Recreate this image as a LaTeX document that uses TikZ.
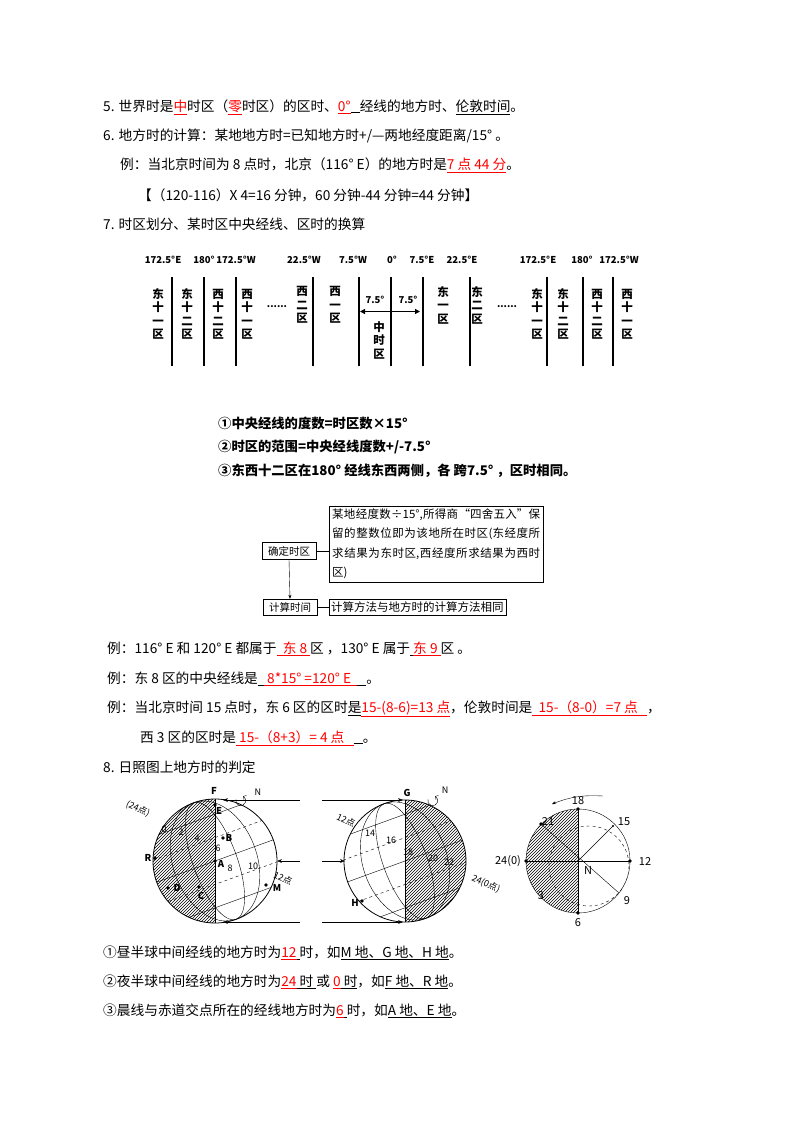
\documentclass[tikz,border=0pt]{standalone}
\usepackage{fontspec}
\setmainfont{Noto Sans CJK SC}
\XeTeXlinebreaklocale "zh"
\XeTeXlinebreakskip=0pt plus 1pt
\usetikzlibrary{patterns,arrows.meta,calc}
\newcommand{\ru}[1]{{\color{red}\underline{#1}}}
\newcommand{\bu}[1]{\underline{#1}}
\begin{document}
\begin{tikzpicture}[x=1pt,y=-1pt,
  txt/.style={anchor=west,inner sep=0pt,font=\fontsize{13.7}{15}\selectfont},
  bld/.style={anchor=west,inner sep=0pt,font=\fontsize{13.3}{15}\selectfont\bfseries},
  deg/.style={inner sep=0pt,font=\fontsize{9.5}{10}\selectfont\bfseries},
  zone/.style={inner sep=0pt,align=center,font=\fontsize{11.5}{13.5}\selectfont\bfseries},
  zl/.style={line width=1.3pt},
  zlt/.style={line width=2.2pt},
  fbox/.style={draw,inner sep=2pt,font=\fontsize{10.5}{12}\selectfont},
  gl/.style={font=\fontsize{9}{10}\selectfont,inner sep=0pt},
  gb/.style={font=\fontsize{9.5}{10}\selectfont\bfseries,inner sep=0pt},
  pl/.style={font=\fontsize{11}{12}\selectfont,inner sep=0pt},
  sun/.style={-{Stealth[length=5pt]},thin}]
\useasboundingbox (0,0) rectangle (800,1132);
% ---- text top
\node[txt] (t5) at (103,107) {5. 世界时是\textcolor{red}{\underline{中}}时区（\textcolor{red}{\underline{零}}时区）的区时、\ru{0°}\bu{\ \ \ }经线的地方时、\bu{伦敦时间}。};
\node[txt] (t6) at (103,136) {6. 地方时的计算：某地地方时=已知地方时+/—两地经度距离/15° 。};
\node[txt] (t6a) at (120,165) {例：当北京时间为 8 点时，北京（116° E）的地方时是\ru{7 点 44 分}。};
\node[txt] (t6b) at (138,195) {【（120-116）X 4=16 分钟，60 分钟-44 分钟=44 分钟】};
\node[txt] (t7) at (103,224) {7. 时区划分、某时区中央经线、区时的换算};
% ---- time zone diagram
\foreach \x/\s in {172/zlt,204/zl,236/zl,313/zlt,359/zl,391/zl,423/zlt,470/zl,547/zlt,583/zl,613/zl}
  \draw[\s] (\x,277) -- (\x,366);
\foreach \x/\t in {163/172.5°E,204/180°,236/172.5°W,304/22.5°W,353/7.5°W,392/0°,422/7.5°E,462/22.5°E,538/172.5°E,582/180°,619/172.5°W}
  \node[deg] at (\x,260) {\t};
\foreach \x/\t in {158/东\\十\\一\\区,187/东\\十\\二\\区,218/西\\十\\二\\区,247/西\\十\\一\\区,537/东\\十\\一\\区,563/东\\十\\二\\区,597/西\\十\\二\\区,627/西\\十\\一\\区}
  \node[zone] at (\x,314) {\t};
\foreach \x/\t in {302/西\\二\\区,335/西\\一\\区,443/东\\一\\区,477/东\\二\\区}
  \node[zone] at (\x,305) {\t};
\node[zone] (zz) at (379,340) {中\\时\\区};
\node[deg] at (277,307) {......};
\node[deg] at (507,307) {......};
\node[deg] at (375,300) {7.5°};
\node[deg] at (408,300) {7.5°};
\coordinate (al) at (360,311.5); \coordinate (ar) at (420,311.5);
\draw[{Triangle[length=5pt,width=5pt]}-{Triangle[length=5pt,width=5pt]},line width=1.3pt] (al) -- (ar);
% ---- rules
\node[bld] (r1) at (218,423) {①中央经线的度数=时区数×15°};
\node[bld] (r2) at (218,447) {②时区的范围=中央经线度数+/-7.5°};
\node[bld] (r3) at (218,471) {③东西十二区在180° 经线东西两侧，各 跨7.5° ，区时相同。};
% ---- flowchart
\node[fbox,minimum width=54pt,minimum height=17pt] (b1) at (289,551) {确定时区};
\node[fbox,anchor=west,text width=208pt,align=justify,inner sep=3pt,font=\fontsize{11.5}{19.5}\selectfont] (b2) at (329,544) {某地经度数÷15°,所得商“四舍五入”保留的整数位即为该地所在时区(东经度所求结果为东时区,西经度所求结果为西时区)};
\node[fbox,minimum width=54pt,minimum height=16pt] (b3) at (290,607) {计算时间};
\node[fbox,anchor=west,minimum height=16pt,font=\fontsize{11.5}{12}\selectfont] (b4) at (329,607) {计算方法与地方时的计算方法相同};
\draw (b1.east) -- (b2.west |- b1.east);
\draw[-{Stealth[length=4pt]}] (b1.south) -- (b3.north);
\draw (b3.east) -- (b4.west);
% ---- examples
\node[txt] (e1) at (107,649) {例：116° E 和 120° E 都属于\ru{\ \ 东 8 }区 ，130° E 属于\bu{\ }\ru{东 9 }区 。};
\node[txt] (e2) at (107,679) {例：东 8 区的中央经线是\bu{\ \ }\ru{\ 8*15° =120° E\ \ }\bu{\ \ \ }。};
\node[txt] (e3) at (107,709) {例：当北京时间 15 点时，东 6 区的区时\bu{是}\ru{15-(8-6)=13 点}，伦敦时间是\ru{\ \ 15-（8-0）=7 点\ \ \ }，};
\node[txt] (e4) at (140,738) {西 3 区的区时是\ru{\ 15-（8+3）= 4 点\ \ \ }\bu{\ \ \ }。};
\node[txt] (t8) at (103,767) {8. 日照图上地方时的判定};
% ---- globe 1
\coordinate (c1) at (215,861);
\begin{scope}
\clip (c1) circle (62);
\fill[pattern=north east lines] (153,790) rectangle (215,930);
\begin{scope}[rotate around={20:(c1)}]
\foreach \a in {22,42} \draw (c1) ellipse ({\a} and 62);
\foreach \d/\s in {-44/solid,-22/dashed,0/solid,22/dashed,44/solid}
  \draw[\s] ($(c1)+(-70,\d)$) -- ($(c1)+(70,\d)$);
\end{scope}
\end{scope}
\draw[thick] (c1) circle (62);
\draw[thick] (215,799) -- (215,923);
\coordinate (s1t) at (300,800); \coordinate (s1m) at (300,861); \coordinate (s1b) at (300,922);
\draw[sun] (s1t) -- (223,800);
\draw[sun] (s1m) -- (277,861);
\draw[sun] (s1b) -- (223,922);
\draw[->] (236,799) arc (200:-60:5);
\node[gl] at (258,792) {N};
\node[gb] (F) at (214,791) {F};
\node[gb] (E) at (219,811) {E};
\node[gb] (B) at (229,838) {B};
\node[gb] (A) at (221,864) {A};
\node[gb] (R) at (148,858) {R};
\node[gb] (D) at (177,888) {D};
\node[gb] (C) at (201,896) {C};
\node[gb] (M) at (277,888) {M};
\foreach \p in {(215,805),(223,838),(215,861),(155,858),(168,888),(199,887),(266,885)} \fill \p circle (1.8);
\node[gl,rotate=-25] at (138,809) {(24点)};
\foreach \x/\y/\t in {164/829/0,181/832/2,197/838/4,218/848/6,230/868/8,253/866/10} \node[gl] at (\x,\y) {\t};
\node[gl,rotate=-25] at (283,878) {12点};
% ---- globe 2
\coordinate (c2) at (405,861);
\begin{scope}
\clip (c2) circle (61);
\fill[pattern=north east lines] (405,790) rectangle (470,930);
\begin{scope}[rotate around={20:(c2)}]
\foreach \a in {22,42} \draw (c2) ellipse ({\a} and 61);
\foreach \d/\s in {-44/solid,-22/dashed,0/solid,22/dashed,44/solid}
  \draw[\s] ($(c2)+(-70,\d)$) -- ($(c2)+(70,\d)$);
\end{scope}
\end{scope}
\draw[thick] (c2) circle (61);
\draw[thick] (405,800) -- (405,922);
\coordinate (s2t) at (322,800); \coordinate (s2m) at (322,861); \coordinate (s2b) at (322,922);
\draw[sun] (s2t) -- (403,800);
\draw[sun] (s2m) -- (345,861);
\draw[sun] (s2b) -- (403,922);
\draw[->] (428,799) arc (200:-60:5);
\node[gl] at (445,790) {N};
\node[gb] (G) at (407,793) {G};
\node[gb] (H) at (355,903) {H};
\fill (362,901) circle (1.8);
\node[gl,rotate=-25] at (346,820) {12点};
\foreach \x/\y/\t in {370/833/14,391/840/16,408/852/18,433/858/20,449/862/22} \node[gl] at (\x,\y) {\t};
\node[gl,rotate=-25] at (486,884) {24(0点)};
% ---- polar diagram
\coordinate (c3) at (578,861);
\begin{scope}
\clip (c3) circle (52);
\fill[pattern=north east lines] (520,805) rectangle (578,915);
\draw[dashed] (589,866) circle (40);
\end{scope}
\draw (c3) circle (52);
\coordinate (p18) at (578,809); \coordinate (p6) at (578,913);
\coordinate (p24) at (526,861); \coordinate (p12) at (630,861);
\coordinate (p21) at (541,824); \coordinate (p9) at (619,893);
\coordinate (p15) at (613,826);
\draw[thick] (p18) -- (p6);
\draw (p24) -- (p12);
\draw (p21) -- (p9);
\draw (c3) -- (p15);
\foreach \p in {p18,p6,p24,p12,p21} \fill (\p) circle (1.8);
\fill (p15) circle (1.2);
\node[pl] at (578,801) {18};
\node[pl] at (548,821) {21};
\node[pl] at (624,822) {15};
\node[pl] at (508,861) {24(0)};
\node[pl] at (645,861) {12};
\node[pl] at (541,896) {3};
\node[pl] at (627,901) {9};
\node[pl] at (578,923) {6};
\node[pl] at (588,870) {N};
\draw[-{Stealth[length=4pt]}] (603,796) to[bend right=12] (552,804);
% ---- bottom
\node[txt] (f1) at (103,953) {①昼半球中间经线的地方时为\ru{12}\bu{\ }时，如\bu{M 地、G 地、H 地}。};
\node[txt] (f2) at (103,982) {②夜半球中间经线的地方时为\ru{24}\bu{ 时\ }或\ \ru{0}\bu{ 时}，如\bu{F 地、R 地}。};
\node[txt] (f3) at (103,1011) {③晨线与赤道交点所在的经线地方时为\ru{6}\bu{\ }时，如\bu{A 地、E 地}。};
\end{tikzpicture}
\end{document}
